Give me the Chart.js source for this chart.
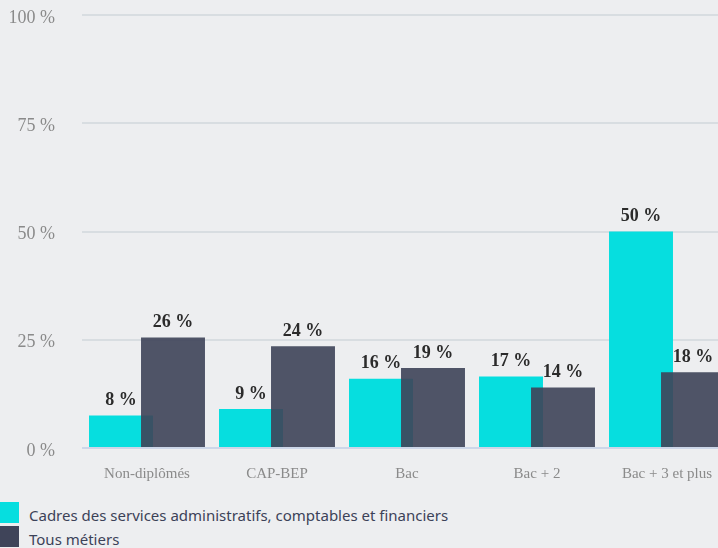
<!DOCTYPE html>
<html>
<head>
<meta charset="utf-8">
<script src="https://cdn.jsdelivr.net/npm/chart.js@4"></script>
<style>
    html, body { margin: 0; padding: 0; background: #EDEEF0; overflow: hidden; width: 718px; height: 548px; }
    #wrap { position: absolute; left: 0; top: 0; width: 732px; height: 502px; }
    #legend { position: absolute; left: 0; top: 502px; font-family: "Noto Sans", sans-serif; font-size: 15px; color: #3c4258; }
    .item { display: flex; align-items: flex-start; height: 24.3px; }
    .box { width: 19px; height: 21px; margin-right: 10px; flex: none; }
    .txt { line-height: 21px; margin-top: 3px; white-space: nowrap; }
</style>
</head>
<body>
<div id="wrap"><canvas id="chart"></canvas></div>
<div id="legend"></div>
<script>
const categories = ['Non-diplômés', 'CAP-BEP', 'Bac', 'Bac + 2', 'Bac + 3 et plus'];
const seriesNames = ['Cadres des services administratifs, comptables et financiers', 'Tous métiers'];
const cadres = [7.5, 9, 16, 16.5, 50];
const tousMetiers = [25.5, 23.5, 18.5, 14, 17.5];
const yTicks = [0, 25, 50, 75, 100];

const colors = ['#06DEDF', 'rgba(63, 68, 89, 0.91)'];
const legendColors = ['#06DEDF', '#3F4459'];

// draw datasets left to right so the second bar sits over the first one
const drawOrder = {
    id: 'drawOrder',
    beforeDatasetsDraw(chart) {
        chart.getSortedVisibleDatasetMetas().forEach(m => m.controller.draw());
        return false;
    }
};

const valueLabels = {
    id: 'valueLabels',
    afterDraw(chart) {
        const ctx = chart.ctx;
        ctx.save();
        ctx.font = 'bold 18px "Liberation Serif", serif';
        ctx.fillStyle = '#2b2b2b';
        ctx.textAlign = 'center';
        ctx.textBaseline = 'bottom';
        chart.getSortedVisibleDatasetMetas().forEach(meta => {
            meta.data.forEach((bar, i) => {
                const v = chart.data.datasets[meta.index].data[i];
                ctx.fillText(Math.round(v) + ' %', bar.x, bar.y - 6);
            });
        });
        ctx.restore();
    }
};

const chart = new Chart(document.getElementById('chart'), {
    type: 'bar',
    data: {
        labels: categories,
        datasets: [
            { label: seriesNames[0], data: cadres, backgroundColor: colors[0] },
            { label: seriesNames[1], data: tousMetiers, backgroundColor: colors[1] }
        ]
    },
    options: {
        responsive: true,
        maintainAspectRatio: false,
        animation: false,
        categoryPercentage: 0.8,
        barPercentage: 1.23,
        layout: { padding: { top: 15, left: 0, right: 0, bottom: 0 } },
        plugins: {
            legend: { display: false },
            tooltip: { enabled: false }
        },
        scales: {
            x: {
                grid: { display: false },
                border: { display: false },
                ticks: {
                    color: '#8a8a8a',
                    padding: 9,
                    font: { family: '"Liberation Serif", serif', size: 15 }
                },
                afterFit(scale) { scale.height = 54; }
            },
            y: {
                min: 0,
                max: 100,
                afterBuildTicks(scale) { scale.ticks = yTicks.map(v => ({ value: v })); },
                border: { display: false },
                grid: {
                    drawTicks: false,
                    lineWidth: 2,
                    color: c => c.tick && c.tick.value === 0 ? '#CCD6E8' : '#D8DDE1'
                },
                ticks: {
                    color: '#8a8a8a',
                    padding: 27,
                    labelOffset: 3,
                    font: { family: '"Liberation Serif", serif', size: 18 },
                    callback: v => v + ' %'
                },
                afterFit(scale) {
                    scale.width = 82;
                    scale.paddingTop = 0;
                    scale.paddingBottom = 0;
                }
            }
        }
    },
    plugins: [drawOrder, valueLabels]
});

const legend = document.getElementById('legend');
seriesNames.forEach((name, i) => {
    const row = document.createElement('div');
    row.className = 'item';
    row.innerHTML = `<span class="box" style="background:${legendColors[i]}"></span><span class="txt">${name}</span>`;
    legend.appendChild(row);
});
</script>
</body>
</html>
